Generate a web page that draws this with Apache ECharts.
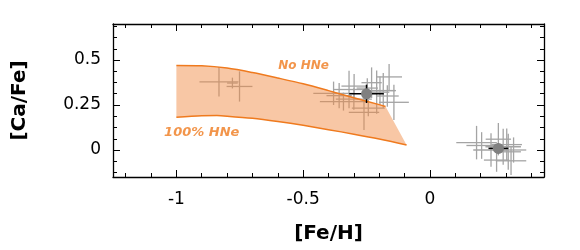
<!DOCTYPE html>
<html><head><meta charset="utf-8">
<script src="https://cdn.jsdelivr.net/npm/echarts@6/dist/echarts.min.js"></script>
<style>html,body{margin:0;padding:0;background:#fff}#c{width:580px;height:250px}</style>
</head><body><div id="c"></div>
<script>
// ---- axis ticks / labels ----
const xTickLabels = [-1, -0.5, 0];
const xMajorTicks = [-1, -0.5, 0];
const xMinorTicks = [-1.2, -1.1, -0.9, -0.8, -0.7, -0.6, -0.4, -0.3, -0.2, -0.1, 0.1, 0.2, 0.3, 0.4];
const yTickLabels = [0, 0.25, 0.5];
const yMajorTicks = [0, 0.25, 0.5];
const yMinorTicks = [-0.125, -0.0625, 0.0625, 0.125, 0.1875, 0.3125, 0.375, 0.4375, 0.5625, 0.625, 0.6875];

// ---- model band ----
const noHNeFeH  = [-1.0, -0.9, -0.8, -0.7, -0.6, -0.5, -0.4, -0.3, -0.2, -0.175];
const noHNeCaFe = [0.470, 0.468, 0.455, 0.430, 0.400, 0.368, 0.330, 0.290, 0.252, 0.242];
const fullHNeFeH  = [-1.0, -0.9, -0.84, -0.8, -0.7, -0.6, -0.5, -0.4, -0.3, -0.2, -0.092];
const fullHNeCaFe = [0.182, 0.190, 0.191, 0.188, 0.176, 0.158, 0.137, 0.113, 0.088, 0.061, 0.028];

// ---- individual stars ----
const starFeH     = [-0.832, -0.751, -0.779,
  -0.380, -0.358, -0.319, -0.299, -0.260, -0.230, -0.210, -0.197, -0.184, -0.168, -0.161, -0.142,
  -0.341, -0.300, -0.243, -0.247,
  0.184, 0.204, 0.241, 0.263, 0.270, 0.289, 0.303, 0.309, 0.320, 0.330];
const starCaFe    = [0.379, 0.353, 0.372,
  0.315, 0.302, 0.336, 0.355, 0.209, 0.374, 0.321, 0.330, 0.330, 0.300, 0.406, 0.265,
  0.269, 0.283, 0.233, 0.344,
  0.041, 0.025, 0.000, -0.056, 0.060, 0.018, 0.030, -0.010, -0.060, 0.000];
const starErrFeH  = [0.077, 0.051, 0.021,
  0.080, 0.050, 0.060, 0.050, 0.060, 0.040, 0.050, 0.060, 0.050, 0.045, 0.051, 0.059,
  0.093, 0.071, 0.065, 0.042,
  0.080, 0.060, 0.070, 0.050, 0.050, 0.070, 0.060, 0.050, 0.060, 0.050];
const starErrCaFe = [0.082, 0.084, 0.030,
  0.065, 0.070, 0.104, 0.067, 0.098, 0.085, 0.120, 0.079, 0.098, 0.060, 0.072, 0.098,
  0.050, 0.060, 0.045, 0.055,
  0.093, 0.074, 0.093, 0.065, 0.090, 0.100, 0.090, 0.100, 0.079, 0.070];

// ---- group means ----
const meanFeH = [-0.25, 0.27];
const meanCaFe = [0.312, 0.009];
const meanErrFeH = [0.068, 0.039];
const meanErrCaFe = [0.051, 0.028];

// ---- annotations ----
const bandLabels = [
  { text: 'No HNe', feh: -0.498, cafe: 0.465, size: 12 },
  { text: '100% HNe', feh: -0.900, cafe: 0.096, size: 13 }
];

const X_MIN = -1.25, X_MAX = 0.45, Y_MIN = -0.15, Y_MAX = 0.7;
const ORANGE = '#ef7a1e';
const FONT = '"DejaVu Sans", Verdana, sans-serif';

const zip4 = (a, b, c, d) => a.map((v, i) => [v, b[i], c[i], d[i]]);
const zip2 = (a, b) => a.map((v, i) => [v, b[i]]);

function errRender(color, width) {
  return function (params, api) {
    const x = api.value(0), y = api.value(1), ex = api.value(2), ey = api.value(3);
    const l = api.coord([x - ex, y]), r = api.coord([x + ex, y]);
    const t = api.coord([x, y + ey]), b = api.coord([x, y - ey]);
    const st = { stroke: color, lineWidth: width };
    return { type: 'group', children: [
      { type: 'line', shape: { x1: l[0], y1: l[1], x2: r[0], y2: r[1] }, style: st },
      { type: 'line', shape: { x1: t[0], y1: t[1], x2: b[0], y2: b[1] }, style: st }
    ]};
  };
}

function xAx(gi, pos, ticks, len, labels, axisLineShow, extra) {
  return Object.assign({
    type: 'value', gridIndex: gi, position: pos, min: X_MIN, max: X_MAX,
    splitLine: { show: false },
    axisLine: { show: axisLineShow, onZero: false, lineStyle: { color: '#000', width: 1.3 } },
    axisTick: { show: true, inside: true, length: len, customValues: ticks, lineStyle: { color: '#000', width: 1 } },
    axisLabel: labels ? { show: true, customValues: labels, margin: 14, color: '#000', fontSize: 17, fontFamily: FONT } : { show: false }
  }, extra || {});
}
function yAx(gi, pos, ticks, len, labels, axisLineShow, extra) {
  return Object.assign({
    type: 'value', gridIndex: gi, position: pos, min: Y_MIN, max: Y_MAX,
    splitLine: { show: false },
    axisLine: { show: axisLineShow, onZero: false, lineStyle: { color: '#000', width: 1.3 } },
    axisTick: { show: true, inside: true, length: len, customValues: ticks, lineStyle: { color: '#000', width: 1 } },
    axisLabel: labels ? { show: true, customValues: labels, margin: 12, color: '#000', fontSize: 17, fontFamily: FONT } : { show: false }
  }, extra || {});
}

const gridPos = { left: 113, right: 36, top: 24, bottom: 73 };
const chart = echarts.init(document.getElementById('c'), null, { renderer: 'canvas' });

chart.setOption({
  animation: false,
  backgroundColor: '#fff',
  grid: [Object.assign({}, gridPos), Object.assign({}, gridPos)],
  xAxis: [
    xAx(0, 'bottom', xMajorTicks, 7, xTickLabels, true, {
      name: '[Fe/H]', nameLocation: 'middle', nameGap: 47,
      nameTextStyle: { color: '#000', fontSize: 20, fontWeight: 'bold', fontFamily: FONT }
    }),
    xAx(0, 'top', xMajorTicks, 7, null, true),
    xAx(1, 'bottom', xMinorTicks, 4, null, false),
    xAx(1, 'top', xMinorTicks, 4, null, false)
  ],
  yAxis: [
    yAx(0, 'left', yMajorTicks, 7, yTickLabels, true, {
      name: '[Ca/Fe]', nameLocation: 'middle', nameGap: 83,
      nameTextStyle: { color: '#000', fontSize: 20, fontWeight: 'bold', fontFamily: FONT }
    }),
    yAx(0, 'right', yMajorTicks, 7, null, true),
    yAx(1, 'left', yMinorTicks, 4, null, false),
    yAx(1, 'right', yMinorTicks, 4, null, false)
  ],
  series: [
    {
      type: 'custom', xAxisIndex: 0, yAxisIndex: 0, z: 2,
      renderItem: errRender('#a4a4a4', 1.3),
      data: zip4(starFeH, starCaFe, starErrFeH, starErrCaFe)
    },
    {
      type: 'custom', xAxisIndex: 0, yAxisIndex: 0, z: 3,
      data: [[0, 0]],
      renderItem: function (params, api) {
        const pts = [];
        noHNeFeH.forEach((v, i) => pts.push(api.coord([v, noHNeCaFe[i]])));
        for (let i = fullHNeFeH.length - 1; i >= 0; i--) pts.push(api.coord([fullHNeFeH[i], fullHNeCaFe[i]]));
        return { type: 'polygon', shape: { points: pts, smooth: 0 }, style: { fill: 'rgba(241,138,66,0.48)', stroke: null } };
      }
    },
    {
      type: 'line', xAxisIndex: 0, yAxisIndex: 0, z: 4, showSymbol: false, smooth: 0.3,
      lineStyle: { color: ORANGE, width: 1.5 },
      data: zip2(noHNeFeH, noHNeCaFe)
    },
    {
      type: 'line', xAxisIndex: 0, yAxisIndex: 0, z: 4, showSymbol: false, smooth: 0.3,
      lineStyle: { color: ORANGE, width: 1.5 },
      data: zip2(fullHNeFeH, fullHNeCaFe)
    },
    {
      type: 'custom', xAxisIndex: 0, yAxisIndex: 0, z: 5,
      renderItem: errRender('#000', 1.5),
      data: zip4(meanFeH, meanCaFe, meanErrFeH, meanErrCaFe)
    },
    {
      type: 'scatter', xAxisIndex: 0, yAxisIndex: 0, z: 6,
      symbolSize: 11, itemStyle: { color: '#808080', opacity: 1 },
      data: zip2(meanFeH, meanCaFe)
    },
    {
      type: 'scatter', xAxisIndex: 0, yAxisIndex: 0, z: 7, symbolSize: 0,
      itemStyle: { color: 'rgba(0,0,0,0)' },
      label: {
        show: true, position: 'inside', color: ORANGE, fontStyle: 'italic', fontWeight: 'bold', fontFamily: FONT,
        formatter: p => p.data.text,
        fontSize: 12
      },
      data: bandLabels.map(b => ({ value: [b.feh, b.cafe], text: b.text, label: { fontSize: b.size } }))
    }
  ]
});
</script></body></html>
